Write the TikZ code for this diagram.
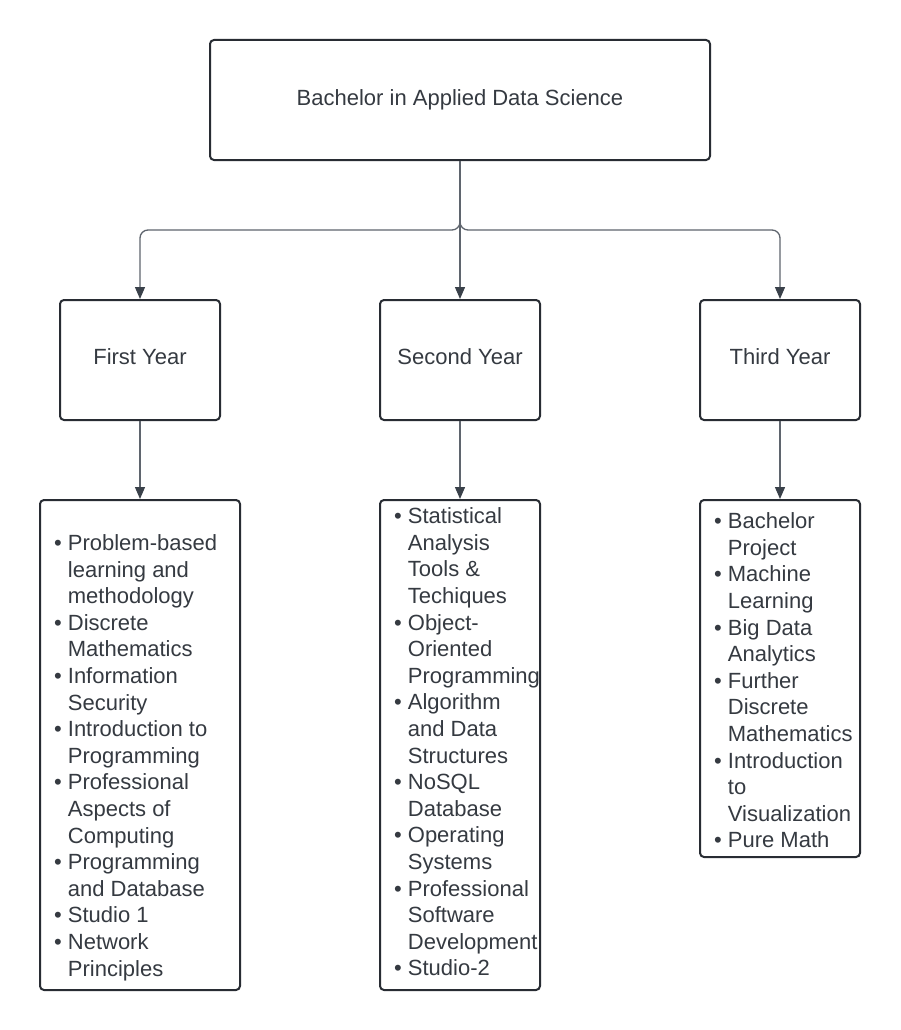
\documentclass[tikz,border=0pt]{standalone}
\usepackage{fontspec}
\setmainfont{Liberation Sans}
\usetikzlibrary{arrows.meta}
\definecolor{boxline}{HTML}{282C33}
\definecolor{wireline}{HTML}{5F656E}
\definecolor{tipcol}{HTML}{3A414A}
\definecolor{txtcol}{HTML}{353A41}
\begin{document}
\begin{tikzpicture}[x=1pt,y=-1pt,
  >={Triangle[length=12pt,width=10pt,color=tipcol]},
  box/.style={draw=boxline,line width=2pt,rounded corners=4pt,inner sep=0pt,
    text=txtcol,font=\fontsize{22}{26.6}\selectfont},
  yearbox/.style={box,minimum width=160pt,minimum height=120pt,text depth=6pt},
  wire/.style={draw=wireline,line width=1.3pt},
  courses/.style={anchor=west,inner sep=0pt,text=txtcol,font=\fontsize{22}{26.6}\selectfont}]
\useasboundingbox[fill=white] (0,0) rectangle (900,1030);

\node[box,minimum width=500pt,minimum height=120pt] (bads) at (460,100) {Bachelor in Applied Data Science};

\node[yearbox] (y1) at (140,360) {First Year};
\node[yearbox] (y2) at (460,360) {Second Year};
\node[yearbox] (y3) at (780,360) {Third Year};

\node[box,minimum width=200pt,minimum height=490pt] (l1) at (140,745) {};
\node[box,minimum width=160pt,minimum height=490pt] (l2) at (460,745) {};
\node[box,minimum width=160pt,minimum height=357pt] (l3) at (780,678.5) {};

\node[courses] (c1) at (54,758) {\begin{tabular}{@{}l@{\hspace{6pt}}l@{}}
\textbullet & Problem-based\\ & learning and\\ & methodology\\
\textbullet & Discrete\\ & Mathematics\\
\textbullet & Information\\ & Security\\
\textbullet & Introduction to\\ & Programming\\
\textbullet & Professional\\ & Aspects of\\ & Computing\\
\textbullet & Programming\\ & and Database\\
\textbullet & Studio 1\\
\textbullet & Network\\ & Principles
\end{tabular}};

\node[courses] (c2) at (394,744.5) {\begin{tabular}{@{}l@{\hspace{6pt}}l@{}}
\textbullet & Statistical\\ & Analysis\\ & Tools \&\\ & Techiques\\
\textbullet & Object-\\ & Oriented\\ & Programming\\
\textbullet & Algorithm\\ & and Data\\ & Structures\\
\textbullet & NoSQL\\ & Database\\
\textbullet & Operating\\ & Systems\\
\textbullet & Professional\\ & Software\\ & Development\\
\textbullet & Studio-2
\end{tabular}};

\node[courses] (c3) at (714,683) {\begin{tabular}{@{}l@{\hspace{6pt}}l@{}}
\textbullet & Bachelor\\ & Project\\
\textbullet & Machine\\ & Learning\\
\textbullet & Big Data\\ & Analytics\\
\textbullet & Further\\ & Discrete\\ & Mathematics\\
\textbullet & Introduction\\ & to\\ & Visualization\\
\textbullet & Pure Math
\end{tabular}};

\coordinate (split) at (460,230);
\draw[wire,rounded corners=8pt,->] (bads.south) -- (split) -| (y1.north);
\draw[wire,rounded corners=8pt,->] (bads.south) -- (split) -| (y3.north);
\draw[wire,->] (bads.south) -- (y2.north);

\draw[wire,->] (y1.south) -- (l1.north);
\draw[wire,->] (y2.south) -- (l2.north);
\draw[wire,->] (y3.south) -- (l3.north);
\end{tikzpicture}
\end{document}
